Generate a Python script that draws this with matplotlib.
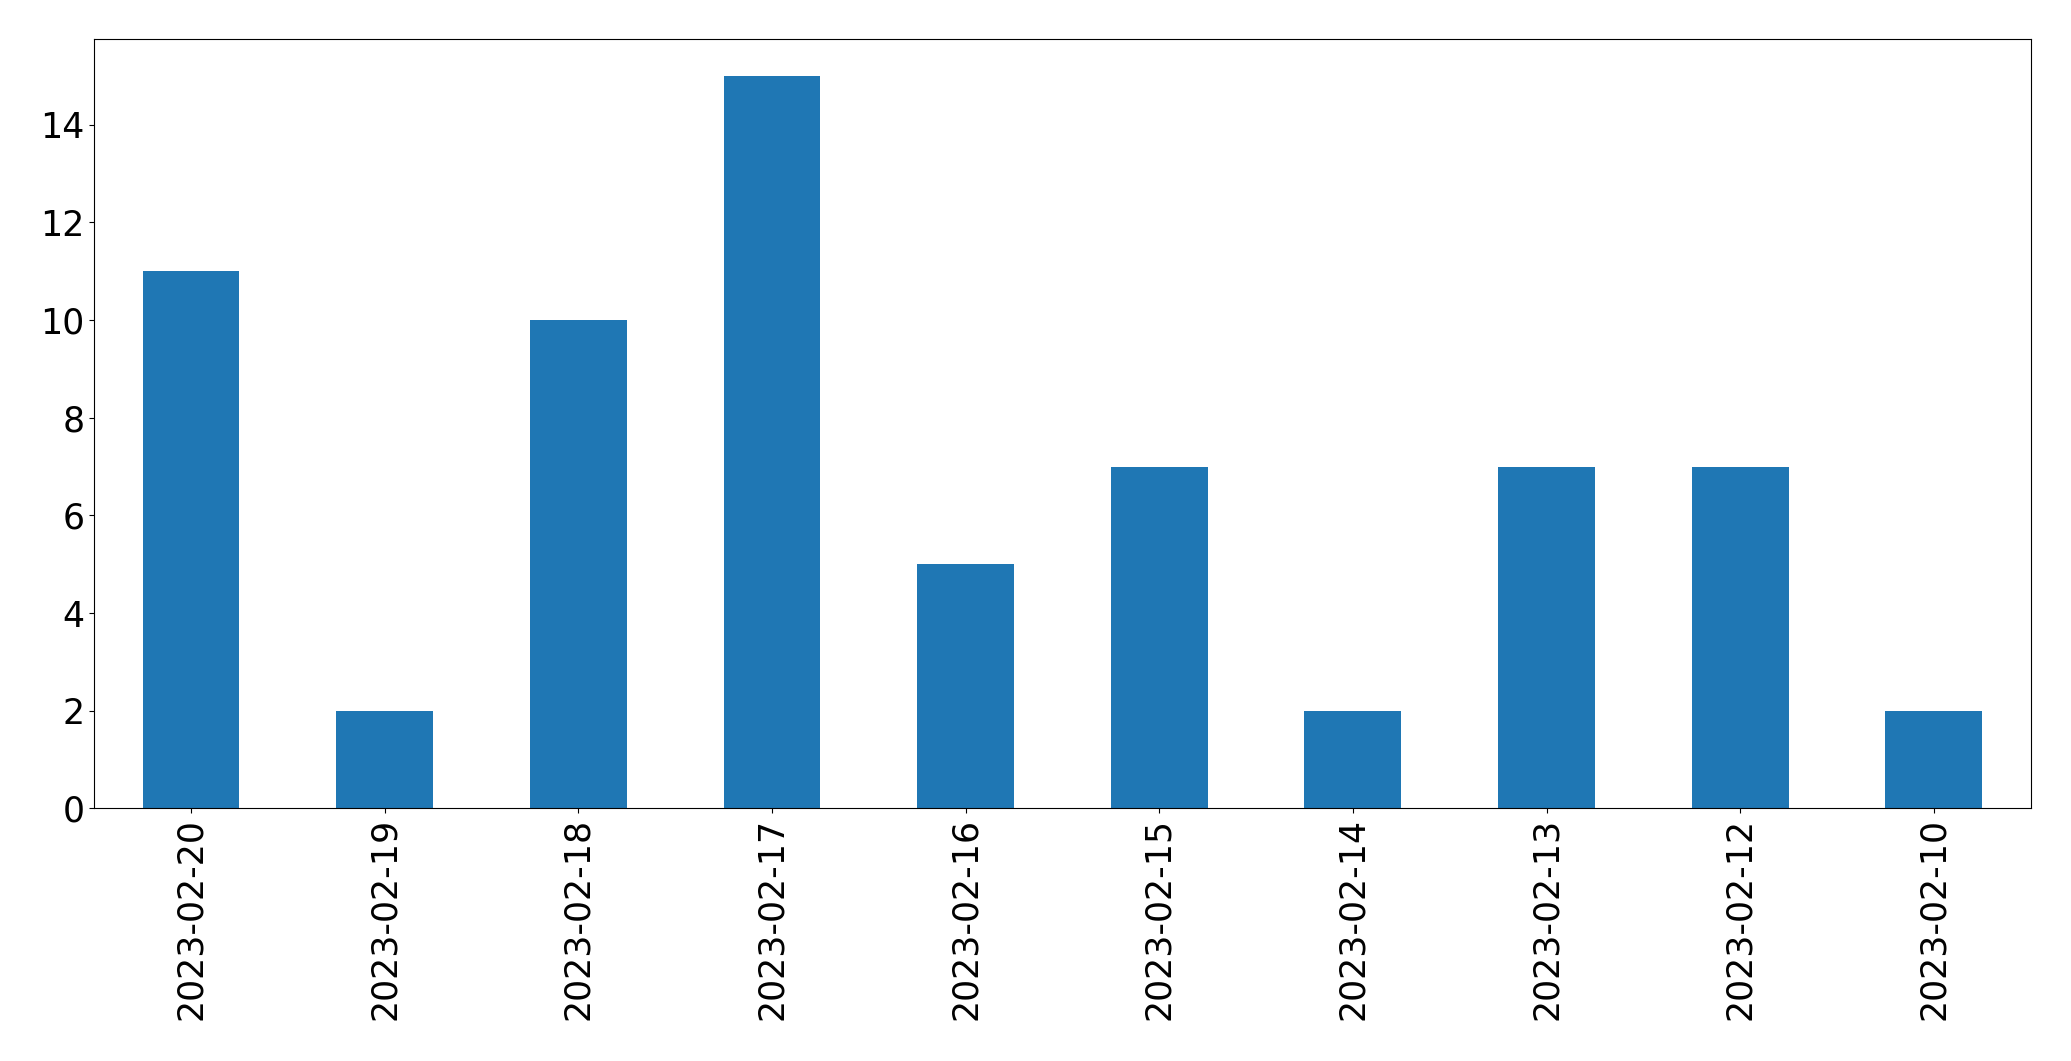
import matplotlib
matplotlib.use('Agg')
import matplotlib.pyplot as plt
import pandas as pd

dates = ['2023-02-20', '2023-02-19', '2023-02-18', '2023-02-17', '2023-02-16',
         '2023-02-15', '2023-02-14', '2023-02-13', '2023-02-12', '2023-02-10']
counts = [11, 2, 10, 15, 5, 7, 2, 7, 7, 2]

s = pd.Series(counts, index=dates)

fig, ax = plt.subplots(figsize=(20.71, 10.61), dpi=100)
s.plot(kind='bar', ax=ax, color='#1f77b4', fontsize=25)
plt.subplots_adjust(left=0.0455, right=0.9805, top=0.963, bottom=0.238)
plt.savefig('out.png', dpi=100)
